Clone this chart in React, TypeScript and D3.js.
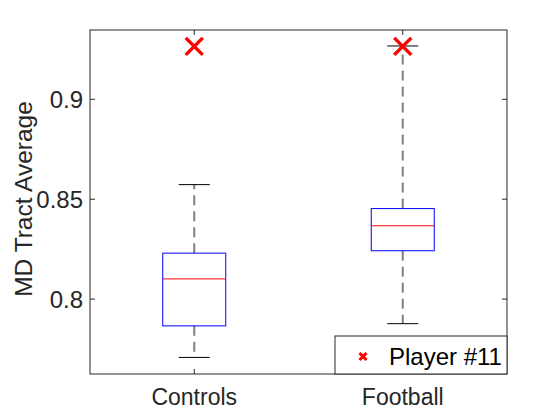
import React from "react";
import * as d3 from "d3";

const categories = ["Controls", "Football"];
const q1 = [0.7866, 0.8242];
const medians = [0.8101, 0.8367];
const q3 = [0.823, 0.8453];
const whiskerLow = [0.7708, 0.7877];
const whiskerHigh = [0.8573, 0.9267];
const player11 = [0.9265, 0.9265];
const yTicks = [0.8, 0.85, 0.9];
const yDomain = [0.7625, 0.9347];

const W = 560, H = 420;
const left = 90, right = 507, top = 30, bottom = 374;
const font = "'Liberation Sans', Arial, Helvetica, sans-serif";
const ink = "#262626";

export default function App() {
  const x = d3.scaleLinear().domain([0.5, 2.5]).range([left, right]);
  const y = d3.scaleLinear().domain(yDomain).range([bottom, top]);
  const boxW = 63;
  const capW = 31;
  const s = 8.5;
  return (
    <svg width={W} height={H} style={{ position: "absolute", left: 0, top: 0, background: "#fff" }}>
      <rect x={0} y={0} width={W} height={H} fill="#fff" />
      {categories.map((c, i) => {
        const cx = x(i + 1);
        return (
          <g key={c}>
            <line x1={cx} x2={cx} y1={y(q3[i])} y2={y(whiskerHigh[i])} stroke="#808080" strokeWidth={2} strokeDasharray="10,6" />
            <line x1={cx} x2={cx} y1={y(q1[i])} y2={y(whiskerLow[i])} stroke="#808080" strokeWidth={2} strokeDasharray="10,6" />
            <line x1={cx - capW / 2} x2={cx + capW / 2} y1={y(whiskerHigh[i])} y2={y(whiskerHigh[i])} stroke="#000" strokeWidth={1} />
            <line x1={cx - capW / 2} x2={cx + capW / 2} y1={y(whiskerLow[i])} y2={y(whiskerLow[i])} stroke="#000" strokeWidth={1} />
            <rect x={cx - boxW / 2} y={y(q3[i])} width={boxW} height={y(q1[i]) - y(q3[i])} fill="none" stroke="#0000ff" strokeWidth={1} />
            <line x1={cx - boxW / 2} x2={cx + boxW / 2} y1={y(medians[i])} y2={y(medians[i])} stroke="#ff0000" strokeWidth={1} />
          </g>
        );
      })}
      <rect x={left} y={top} width={right - left} height={bottom - top} fill="none" stroke={ink} strokeWidth={1} />
      {yTicks.map((t) => (
        <g key={t}>
          <line x1={left} x2={left + 5} y1={y(t)} y2={y(t)} stroke={ink} />
          <line x1={right} x2={right - 5} y1={y(t)} y2={y(t)} stroke={ink} />
          <text x={left - 7} y={y(t)} dy="0.36em" textAnchor="end" fontFamily={font} fontSize={24} fill={ink}>
            {String(t)}
          </text>
        </g>
      ))}
      {categories.map((c, i) => (
        <g key={"t" + c}>
          <line x1={x(i + 1)} x2={x(i + 1)} y1={bottom} y2={bottom - 5} stroke={ink} />
          <line x1={x(i + 1)} x2={x(i + 1)} y1={top} y2={top + 5} stroke={ink} />
          <text x={x(i + 1)} y={bottom + 31} textAnchor="middle" fontFamily={font} fontSize={23} fill={ink}>
            {c}
          </text>
        </g>
      ))}
      <text transform={`translate(32,${(top + bottom) / 2 - 3}) rotate(-90)`} textAnchor="middle" fontFamily={font} fontSize={24.5} fill={ink}>
        MD Tract Average
      </text>
      {player11.map((v, i) => {
        const cx = x(i + 1), cy = y(v);
        return (
          <path key={"p" + i} d={`M${cx - s},${cy - s}L${cx + s},${cy + s}M${cx - s},${cy + s}L${cx + s},${cy - s}`} stroke="#ff0000" strokeWidth={3.5} fill="none" />
        );
      })}
      <rect x={335} y={336} width={right - 335} height={bottom - 336} fill="#fff" stroke={ink} strokeWidth={1} />
      <path d={`M${363 - 3.5},${356.5 - 3.5}L${363 + 3.5},${356.5 + 3.5}M${363 - 3.5},${356.5 + 3.5}L${363 + 3.5},${356.5 - 3.5}`} stroke="#ff0000" strokeWidth={3} fill="none" />
      <text x={389} y={356.5} dy="0.36em" fontFamily={font} fontSize={24} fill="#000">
        Player #11
      </text>
    </svg>
  );
}
